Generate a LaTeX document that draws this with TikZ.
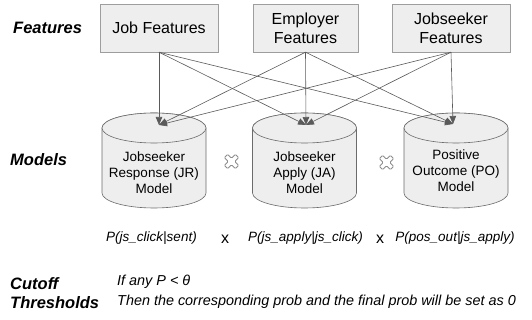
\documentclass[tikz,border=0pt]{standalone}
\usepackage{fontspec}
\setmainfont{Liberation Sans}
\usepackage{tikz}
\usetikzlibrary{positioning, arrows.meta}
\definecolor{boxFill}{HTML}{eeeeee}
\definecolor{boxLine}{HTML}{9e9e9e}
\definecolor{cylLine}{HTML}{6b6b6b}
\definecolor{arrowLine}{HTML}{5a5a5a}
\definecolor{crossLine}{HTML}{8c8c8c}

\begin{document}
\begin{tikzpicture}[x=1pt, y=-1pt, feat/.style={draw=boxLine, fill=boxFill, minimum height=48pt, align=center, font=\fontsize{16}{19}\selectfont, inner sep=2pt}, cyl/.style={draw=cylLine, fill=boxFill, line width=0.6pt}, modeltxt/.style={align=center, font=\fontsize{13.5}{16}\selectfont, inner sep=0pt}, link/.style={-{Triangle[length=8pt, width=6.5pt]}, draw=arrowLine, line width=0.6pt}, rowlbl/.style={font=\fontsize{16.5}{19}\selectfont\bfseries\itshape, anchor=west, inner sep=0pt}, prob/.style={font=\fontsize{13.5}{16}\selectfont\itshape, inner sep=0pt}, times/.style={font=\fontsize{16}{19}\selectfont, inner sep=0pt}, crossmark/.style={draw=crossLine, fill=white, line width=0.8pt, rounded corners=1pt}]
\useasboundingbox (0,0) rectangle (532,320);
% feature sources
\node[feat, minimum width=118pt] (job) at (159,28) {Job Features};
\node[feat, minimum width=105pt] (emp) at (305.5,28) {Employer\\Features};
\node[feat, minimum width=118pt] (seeker) at (451,28) {Jobseeker\\Features};
% model cylinders
\foreach \cx in {154, 304.5, 456} {
  \draw[cyl] (\cx-52,128) -- (\cx-52,193) arc[start angle=180, end angle=0, x radius=52, y radius=15] -- (\cx+52,128) arc[start angle=0, end angle=-180, x radius=52, y radius=15] -- cycle;
  \draw[cyl] (\cx,128) ellipse[x radius=52, y radius=15];
}
\node[modeltxt] (jr) at (154,173) {Jobseeker\\Response (JR)\\Model};
\node[modeltxt] (ja) at (304.5,173) {Jobseeker\\Apply (JA)\\Model};
\node[modeltxt] (po) at (456,171) {Positive\\Outcome (PO)\\Model};
\coordinate (jrin) at (159,125);
\coordinate (jain) at (306,125);
\coordinate (poin) at (453,124);
\foreach \s in {job, emp, seeker}
  \foreach \t in {jr, ja, po}
    \draw[link] (\s.south) -- (\t in);
% multiply marks between models
\coordinate (crossa) at (231.5,161.5);
\coordinate (crossb) at (386.5,162.5);
\foreach \c in {crossa, crossb}
  \draw[crossmark, shift={(\c)}, rotate=45] (2.3,2.3) -- (7.8,2.3) -- (7.8,-2.3) -- (2.3,-2.3) -- (2.3,-7.8) -- (-2.3,-7.8) -- (-2.3,-2.3) -- (-7.8,-2.3) -- (-7.8,2.3) -- (-2.3,2.3) -- (-2.3,7.8) -- (2.3,7.8) -- cycle;
% probabilities
\node[prob] (pjr) at (151.5,238) {P(js\_click|sent)};
\node[prob] (pja) at (305.5,238) {P(js\_apply|js\_click)};
\node[prob] (ppo) at (455,238) {P(pos\_out|js\_apply)};
\node[times] (xa) at (225,239) {x};
\node[times] (xb) at (380,239) {x};
% row labels
\node[rowlbl] (lfeat) at (13,28) {Features};
\node[rowlbl] (lmod) at (10,160) {Models};
\node[rowlbl] (lcut) at (10,284) {Cutoff};
\node[rowlbl] (lthr) at (10,303) {Thresholds};
\node[prob, anchor=west, font=\fontsize{14.4}{17}\selectfont\itshape] (rule1) at (117,282) {If any P < θ};
\node[prob, anchor=west, font=\fontsize{14.4}{17}\selectfont\itshape] (rule2) at (117,302) {Then the corresponding prob and the final prob will be set as 0};
\end{tikzpicture}
\end{document}
